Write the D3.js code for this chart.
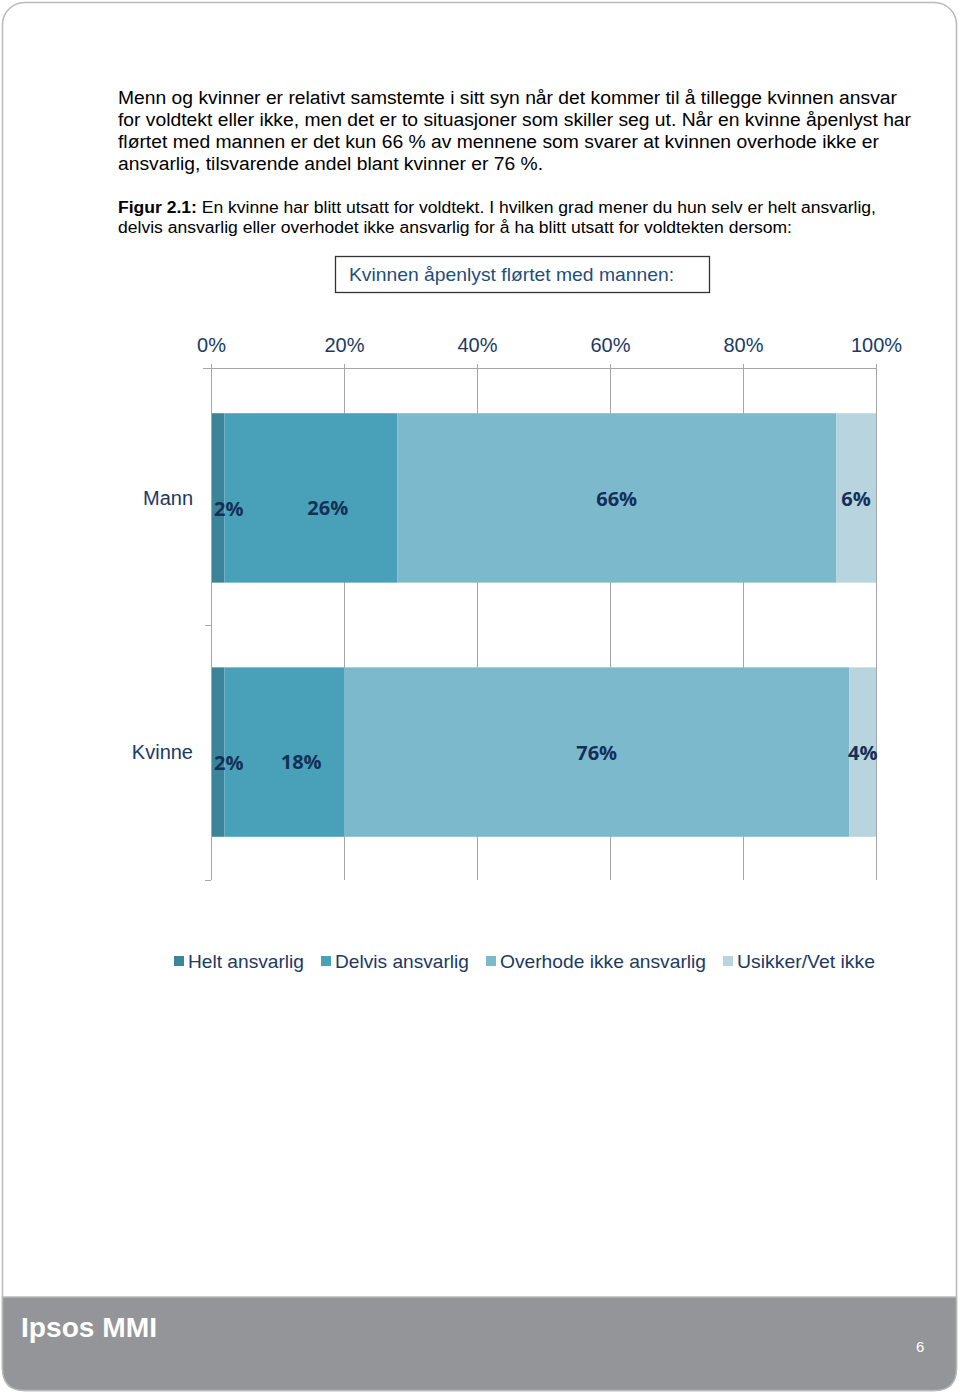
<!DOCTYPE html>
<html><head><meta charset="utf-8">
<script src="https://cdn.jsdelivr.net/npm/d3@7/dist/d3.min.js"></script>
<style>body{margin:0;background:#fff}svg{display:block}</style>
</head><body>
<script>
const categories = ["Mann", "Kvinne"];
const seriesNames = ["Helt ansvarlig", "Delvis ansvarlig", "Overhode ikke ansvarlig", "Usikker/Vet ikke"];
const heltAnsvarlig = [2, 2];
const delvisAnsvarlig = [26, 18];
const overhodeIkke = [66, 76];
const usikker = [6, 4];
const tickValues = [0, 20, 40, 60, 80, 100];
const tickLabels = ["0%", "20%", "40%", "60%", "80%", "100%"];
const paragraph = [
  "Menn og kvinner er relativt samstemte i sitt syn når det kommer til å tillegge kvinnen ansvar",
  "for voldtekt eller ikke, men det er to situasjoner som skiller seg ut. Når en kvinne åpenlyst har",
  "flørtet med mannen er det kun 66 % av mennene som svarer at kvinnen overhode ikke er",
  "ansvarlig, tilsvarende andel blant kvinner er 76 %."
];
const captionBold = "Figur 2.1:";
const caption = [
  " En kvinne har blitt utsatt for voldtekt. I hvilken grad mener du hun selv er helt ansvarlig,",
  "delvis ansvarlig eller overhodet ikke ansvarlig for å ha blitt utsatt for voldtekten dersom:"
];
const chartTitle = "Kvinnen åpenlyst flørtet med mannen:";

const colors = ["#3B8499", "#49A1B9", "#7DB9CD", "#B7D4DF"];
const navy = "#1B3A63";

const W = 960, H = 1395;
const svg = d3.select("body").append("svg").attr("width", W).attr("height", H);

// page frame
svg.append("rect").attr("x", 2.5).attr("y", 2.5).attr("width", 954).attr("height", 1388)
  .attr("rx", 22).attr("fill", "#fff").attr("stroke", "#b9b9b9").attr("stroke-width", 1.5);
// footer
const fy = 1297, fb = 1390.5, fr = 22;
svg.append("path")
  .attr("d", `M2.5,${fy} H956.5 V${fb - fr} Q956.5,${fb} ${956.5 - fr},${fb} H${2.5 + fr} Q2.5,${fb} 2.5,${fb - fr} Z`)
  .attr("fill", "#939598").attr("stroke", "#b9b9b9").attr("stroke-width", 1.5);
svg.append("text").attr("x", 21).attr("y", 1337).attr("fill", "#fff")
  .attr("font-family", "Liberation Sans, Arial").attr("font-weight", "bold").attr("font-size", 28)
  .attr("textLength", 136).attr("lengthAdjust", "spacingAndGlyphs").text("Ipsos MMI");
svg.append("text").attr("x", 916).attr("y", 1352).attr("fill", "#fff")
  .attr("font-family", "Liberation Sans, Arial").attr("font-size", 15).text("6");

// paragraph
const pLens = [779, 793, 761, 425];
paragraph.forEach((t, i) => {
  svg.append("text").attr("x", 118).attr("y", 104 + i * 22)
    .attr("font-family", "Liberation Sans, Arial").attr("font-size", 18).attr("fill", "#000")
    .attr("textLength", pLens[i]).attr("lengthAdjust", "spacingAndGlyphs").text(t);
});
// caption
const cap1 = svg.append("text").attr("x", 118).attr("y", 213)
  .attr("font-family", "Liberation Sans, Arial").attr("font-size", 16).attr("fill", "#000")
  .attr("textLength", 758).attr("lengthAdjust", "spacingAndGlyphs");
cap1.append("tspan").attr("font-weight", "bold").text(captionBold);
cap1.append("tspan").text(caption[0]);
svg.append("text").attr("x", 118).attr("y", 233)
  .attr("font-family", "Liberation Sans, Arial").attr("font-size", 16).attr("fill", "#000")
  .attr("textLength", 674).attr("lengthAdjust", "spacingAndGlyphs").text(caption[1]);

// title box
svg.append("rect").attr("x", 335.5).attr("y", 256.5).attr("width", 374).attr("height", 36)
  .attr("fill", "#fff").attr("stroke", "#333").attr("stroke-width", 1.3);
svg.append("text").attr("x", 349).attr("y", 281)
  .attr("font-family", "Liberation Sans, Arial").attr("font-size", 19).attr("fill", "#1F4E79")
  .attr("textLength", 325).attr("lengthAdjust", "spacingAndGlyphs").text(chartTitle);

// scales
const x = d3.scaleLinear().domain([0, 100]).range([211, 876]);
const y = d3.scaleBand().domain(categories).range([370, 880]).paddingInner(1 / 3).paddingOuter(0.17);

// gridlines / top axis
const gAx = svg.append("g").attr("transform", "translate(0,368)")
  .call(d3.axisTop(x).tickValues(tickValues).tickFormat((d, i) => tickLabels[i])
    .tickSizeInner(-512).tickSizeOuter(0).tickPadding(16));
gAx.select(".domain").remove();
gAx.selectAll(".tick line").attr("stroke", "#a6a6a6").attr("y1", -4);
gAx.selectAll(".tick text").attr("font-family", "Liberation Sans, Arial").attr("font-size", 20)
  .attr("fill", navy);
svg.append("line").attr("x1", 203).attr("x2", 876).attr("y1", 368.5).attr("y2", 368.5)
  .attr("stroke", "#a6a6a6");

// stacked data
const seriesArrays = [heltAnsvarlig, delvisAnsvarlig, overhodeIkke, usikker];
const table = categories.map((c, i) => {
  const o = { cat: c };
  seriesNames.forEach((s, k) => o[s] = seriesArrays[k][i]);
  return o;
});
const stack = d3.stack().keys(seriesNames)(table);

const gBars = svg.append("g");
stack.forEach((layer, k) => {
  gBars.selectAll(null).data(layer).enter().append("rect")
    .attr("x", d => x(d[0])).attr("width", d => x(d[1]) - x(d[0]))
    .attr("y", d => y(d.data.cat)).attr("height", y.bandwidth())
    .attr("fill", colors[k]);
});

// left category axis
svg.append("line").attr("x1", 211.5).attr("x2", 211.5).attr("y1", 368).attr("y2", 880)
  .attr("stroke", "#a6a6a6");
const bounds = [625, 880];
bounds.forEach(b => svg.append("line").attr("x1", 205).attr("x2", 211).attr("y1", b + 0.5).attr("y2", b + 0.5)
  .attr("stroke", "#a6a6a6"));
categories.forEach(c => {
  svg.append("text").attr("x", 193).attr("y", y(c) + y.bandwidth() / 2 + 7)
    .attr("text-anchor", "end").attr("font-family", "Liberation Sans, Arial").attr("font-size", 20)
    .attr("fill", navy).text(c);
});

// data labels
stack.forEach((layer, k) => {
  layer.forEach(d => {
    const cy = y(d.data.cat) + y.bandwidth() / 2;
    let lx, anchor = "middle", ly = cy + 8;
    if (k === 0) { lx = x(d[0]) + 3; anchor = "start"; ly = cy + 18; }
    else if (k === 1) { lx = (x(d[0]) + x(d[1])) / 2 + 17; ly = cy + 17; }
    else { lx = (x(d[0]) + x(d[1])) / 2; }
    svg.append("text").attr("x", lx).attr("y", ly).attr("text-anchor", anchor)
      .attr("font-family", "Open Sans, Noto Sans").attr("font-weight", "bold").attr("font-style", "normal")
      .attr("font-size", 20).attr("fill", "#142F58").text((d[1] - d[0]) + "%");
  });
});

// legend
const legX = [174, 321, 486, 723];
const legW = [116, 134, 206, 138];
seriesNames.forEach((s, k) => {
  svg.append("rect").attr("x", legX[k]).attr("y", 956).attr("width", 10).attr("height", 10).attr("fill", colors[k]);
  svg.append("text").attr("x", legX[k] + 14).attr("y", 968)
    .attr("font-family", "Liberation Sans, Arial").attr("font-size", 19).attr("fill", navy)
    .attr("textLength", legW[k]).attr("lengthAdjust", "spacingAndGlyphs").text(s);
});
</script>
</body></html>
